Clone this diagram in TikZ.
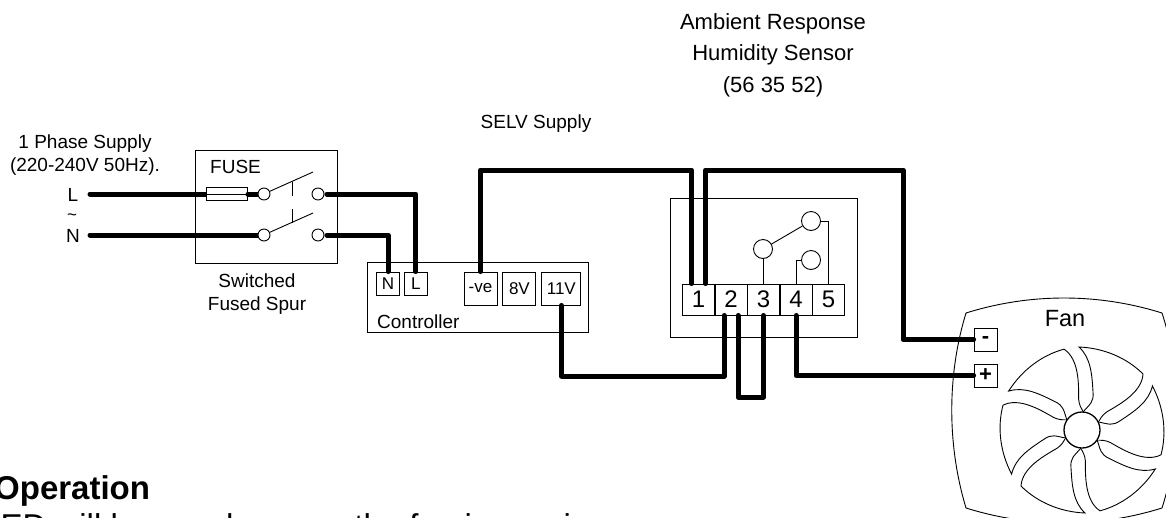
\documentclass[tikz,border=0pt]{standalone}
\usepackage{fontspec}
\setmainfont{Liberation Sans}
\usetikzlibrary{matrix,positioning}
\tikzset{
  thinline/.style={line width=0.9pt},
  wire/.style={line width=5pt,line cap=round,line join=round},
  lbl/.style={font=\fontsize{19}{23}\selectfont,align=center,inner sep=0pt},
  tbox/.style={draw,thinline,fill=white,inner sep=0pt,font=\fontsize{17}{20}\selectfont},
  term/.style={circle,draw,thinline,fill=white,minimum size=12pt,inner sep=0pt},
  relc/.style={circle,draw,thinline,fill=white,minimum size=19pt,inner sep=0pt},
  pmat/.style={matrix of nodes,nodes in empty cells,
    nodes={draw,thinline,fill=white,minimum width=32pt,minimum height=31pt,inner sep=0pt,
      anchor=center,font=\fontsize{24}{28}\selectfont},
    column sep=-\pgflinewidth,row sep=-\pgflinewidth}
}
\begin{document}
\begin{tikzpicture}[x=1pt,y=-1pt]
 \useasboundingbox (0,0) rectangle (1166,517);
 \clip (0,0) rectangle (1166,517);
 % supply and spur
 \node[lbl] (supply) at (85,155) {1 Phase Supply\\(220-240V 50Hz).};
 \node[lbl] (inL) at (73,195) {L};
 \node[lbl] (inT) at (72,217) {\fontsize{17}{17}\selectfont\textasciitilde};
 \node[lbl] (inN) at (73,236) {N};
 \coordinate (startL) at (90,194);
 \coordinate (startN) at (90,235);
 \node[draw,thinline,minimum width=142pt,minimum height=113pt,inner sep=0pt] (spur) at (266,206.5) {};
 \node[lbl,anchor=west] (fuselbl) at (210,167) {FUSE};
 \node[lbl] (spurlbl) at (257,294.5) {Switched\\Fused Spur};
 \draw[wire] (startL) -- (206,194);
 \draw[wire] (startN) -- ++(169,0);
 \node[draw,thinline,fill=white,minimum width=41pt,minimum height=13pt,inner sep=0pt] (fuse) at (227,194) {};
 \draw[thinline] (fuse.west) -- (fuse.east);
 \draw[wire] (fuse.east) -- ++(13,0);
 \node[term] (swLa) at (264,194) {};
 \node[term] (swNa) at (264,235) {};
 \node[term] (swLb) at (318,194) {};
 \node[term] (swNb) at (318,235) {};
 \coordinate (armL) at (313,172);
 \coordinate (armN) at (313,213);
 \draw[thinline] (swLa.25) -- (armL);
 \draw[thinline] (swNa.25) -- (armN);
 \draw[thinline] (292,182) -- (292,196) (292,209) -- (292,223);
 % controller
 \node[draw,thinline,minimum width=221pt,minimum height=70pt,inner sep=0pt] (ctl) at (477.5,297) {};
 \node[lbl,anchor=west] (ctllbl) at (377,322) {Controller};
 \node[tbox,minimum size=23pt] (ctlN) at (388,283.5) {N};
 \node[tbox,minimum size=23pt,right=4pt of ctlN] (ctlL) {L};
 \node[tbox,minimum size=33pt] (ctlve) at (480.5,288.5) {-ve};
 \node[tbox,minimum size=33pt,right=5pt of ctlve] (ctl8) {8V};
 \node[tbox,minimum height=33pt,minimum width=39pt,right=5pt of ctl8] (ctl11) {11V};
 % sensor
 \node[lbl,font=\fontsize{22}{31.5}\selectfont] (senslbl) at (773,55) {Ambient Response\\Humidity Sensor\\(56 35 52)};
 \node[lbl] (selvlbl) at (536,124) {SELV Supply};
 \node[draw,thinline,minimum width=187pt,minimum height=139pt,inner sep=0pt] (sens) at (763.5,267.5) {};
 \node[pmat] (STRIP) at (763.5,299.5) {1 & 2 & 3 & 4 & 5\\};
 \node[relc] (relA) at (763,249) {};
 \node[relc] (relB) at (811,221) {};
 \node[relc] (relC) at (811,260) {};
 \draw[thinline] (relA) -- (relB);
 \draw[thinline] (relA.south) -- (relA.south |- STRIP-1-3.north);
 \draw[thinline] (relC.west) -| (STRIP-1-4.north);
 \draw[thinline] (relB.east) -| (STRIP-1-5.north);
 % fan
 \draw[thinline] (966,313) .. controls (1030,293) and (1098,293) .. (1162,313)
   .. controls (1182,375) and (1182,445) .. (1162,508)
   .. controls (1098,528) and (1030,528) .. (966,508)
   .. controls (947,445) and (947,375) .. (966,313);
 \foreach \a in {0,60,...,300}
  \draw[thinline,shift={(1082,430)},rotate=\a] (1,-18) .. controls (8,-26) and (12,-28) .. (11,-38)
   .. controls (10,-55) and (9,-72) .. (-3,-83)
   .. controls (22,-82) and (45,-72) .. (61,-56)
   .. controls (60,-38) and (38,-26) .. (28,-20)
   .. controls (24,-18) and (20,-15) .. (17,-9);
 \node[circle,draw,line width=1.3pt,fill=white,minimum size=36pt,inner sep=0pt] (hub) at (1082,430) {};
 \node[lbl,font=\fontsize{23.5}{28}\selectfont] (fanlbl) at (1065,319) {Fan};
 \node[tbox,minimum size=23pt,font=\bfseries\fontsize{22}{26}\selectfont] (minus) at (985.5,339.5) {-};
 \node[tbox,minimum size=23pt,font=\bfseries\fontsize{22}{26}\selectfont] (plus) at (985.5,375.5) {+};
 % wiring
 \coordinate (selv) at (600,170);
 \coordinate (fanbus) at (903,170);
 \coordinate (busA) at (640,376);
 \coordinate (busB) at (750,397);
 \draw[wire,shorten <=2.5pt] (swLb.east) -| (ctlL.north);
 \draw[wire,shorten <=2.5pt] (swNb.east) -| (ctlN.north);
 \draw[wire] (ctlve.north) -- (ctlve.north |- selv) -| ([xshift=-7pt]STRIP-1-1.north);
 \draw[wire] ([xshift=7pt]STRIP-1-1.north) |- (fanbus) |- (minus.west);
 \draw[wire] (ctl11.south) |- (busA) -| ([xshift=-7pt]STRIP-1-2.south);
 \draw[wire] ([xshift=7pt]STRIP-1-2.south) |- (busB) -| (STRIP-1-3.south);
 \draw[wire] (STRIP-1-4.south) |- (plus.west);
 % text below
 \node[anchor=base west,inner sep=0pt,font=\bfseries\fontsize{33}{38}\selectfont] (optitle) at (-6,499) {Operation};
 \node[anchor=base west,inner sep=0pt,font=\fontsize{33}{38}\selectfont] (optext) at (-18,537) {LED will be on whenever the fan is running};
\end{tikzpicture}
\end{document}
